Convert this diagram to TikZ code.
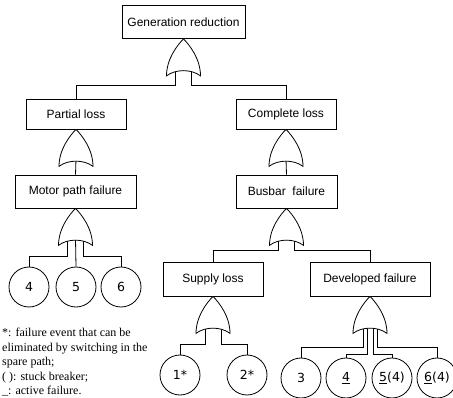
\documentclass[tikz,border=0pt]{standalone}
\usepackage{fontspec}
\setmainfont{Liberation Sans}
\newfontfamily\legendfont{Liberation Serif}
\newfontfamily\leaffont{DejaVu Sans}
\usetikzlibrary{backgrounds}

\tikzset{
  event/.style={draw, line width=0.8pt, minimum height=33pt, inner sep=0pt,
    font=\fontsize{12}{14}\selectfont},
  basic/.style={draw, circle, line width=0.8pt, minimum size=40pt, inner sep=0pt,
    font=\leaffont\fontsize{12.5}{14}\selectfont},
  link/.style={line width=0.8pt},
  orgate/.pic={
    \draw[line width=0.8pt, fill=white] (0,0) .. controls (-6,6) and (-17,20) .. (-17,37)
      .. controls (-8,30) and (8,30) .. (17,37)
      .. controls (17,20) and (6,6) .. (0,0) -- cycle;
    \coordinate (-m) at (0,30);
    \coordinate (-l) at (-8,30);
    \coordinate (-r) at (8,30);
    \coordinate (-il) at (-3,30);
    \coordinate (-ir) at (3,30);
    \coordinate (-ol) at (-7,30);
    \coordinate (-or) at (7,30);
  }
}

\begin{document}
\begin{tikzpicture}[x=1pt, y=-1pt]
  \useasboundingbox (0,0) rectangle (453,398);

  % top event
  \node[event, minimum width=123pt] (top) at (183.5,22) {Generation reduction};
  \pic (g0) at (top.south) {orgate};

  % left branch
  \node[event, minimum width=100pt, minimum height=30pt] (partial) at (76,114) {Partial loss};
  \pic (g1) at (partial.south) {orgate};
  \node[event, minimum width=121pt] (motor) at (75.5,191.5) {Motor path failure};
  \pic (g2) at (motor.south) {orgate};
  \node[basic] (m4) at (29,287) {4};
  \node[basic] (m5) at (76,287) {5};
  \node[basic] (m6) at (121,287) {6};

  % right branch
  \node[event, minimum width=100pt, minimum height=30pt] (complete) at (286,114) {Complete loss};
  \pic (g3) at (complete.south) {orgate};
  \node[event, minimum width=101pt] (busbar) at (286.5,191.5) {Busbar~~failure};
  \pic (g4) at (busbar.south) {orgate};
  \node[event, minimum width=100pt, minimum height=34pt] (supply) at (213,279) {Supply loss};
  \pic (g5) at (supply.south) {orgate};
  \node[event, minimum width=120pt, minimum height=34pt] (developed) at (370,279) {Developed failure};
  \pic (g6) at (developed.south) {orgate};
  \node[basic] (s1) at (180,375) {1*};
  \node[basic] (s2) at (247,375) {2*};
  \node[basic] (d3) at (301,378) {3};
  \node[basic] (d4) at (346,378) {\underline{4}};
  \node[basic] (d5) at (392,378) {\underline{5}(4)};
  \node[basic] (d6) at (437,378) {\underline{6}(4)};

  % connections
  \begin{scope}[on background layer]
    \draw[link] (g0-l) -- ++(0,17) -| (partial.north);
    \draw[link] (g0-r) -- ++(0,17) -| (complete.north);
    \draw[link] (g1-m) -- (motor.north);
    \draw[link] (g2-l) -- ++(0,18) -| (m4.north);
    \draw[link] (g2-m) -- (m5.north);
    \draw[link] (g2-r) -- ++(0,18) -| (m6.north);
    \draw[link] (g3-m) -- (busbar.north);
    \draw[link] (g4-l) -- ++(0,12) -| (supply.north);
    \draw[link] (g4-r) -- ++(0,12) -| (developed.north);
    \draw[link] (g5-l) -- ++(0,18) -| (s1.north);
    \draw[link] (g5-r) -- ++(0,18) -| (s2.north);
    \draw[link] (g6-ol) -- ++(0,21) -| (d3.north);
    \draw[link] (g6-il) -- ++(0,28) -| (d4.north);
    \draw[link] (g6-ir) -- ++(0,28) -| (d5.north);
    \draw[link] (g6-or) -- ++(0,21) -| (d6.north);
  \end{scope}

  % legend
  \node[anchor=north west, inner sep=0pt, align=left,
    font=\legendfont\fontsize{12}{14.5}\selectfont] (legend) at (2,328)
    {*: failure event that can be\\eliminated by switching in the\\spare path;\\( ): stuck breaker;\\\_: active failure.};
\end{tikzpicture}
\end{document}
